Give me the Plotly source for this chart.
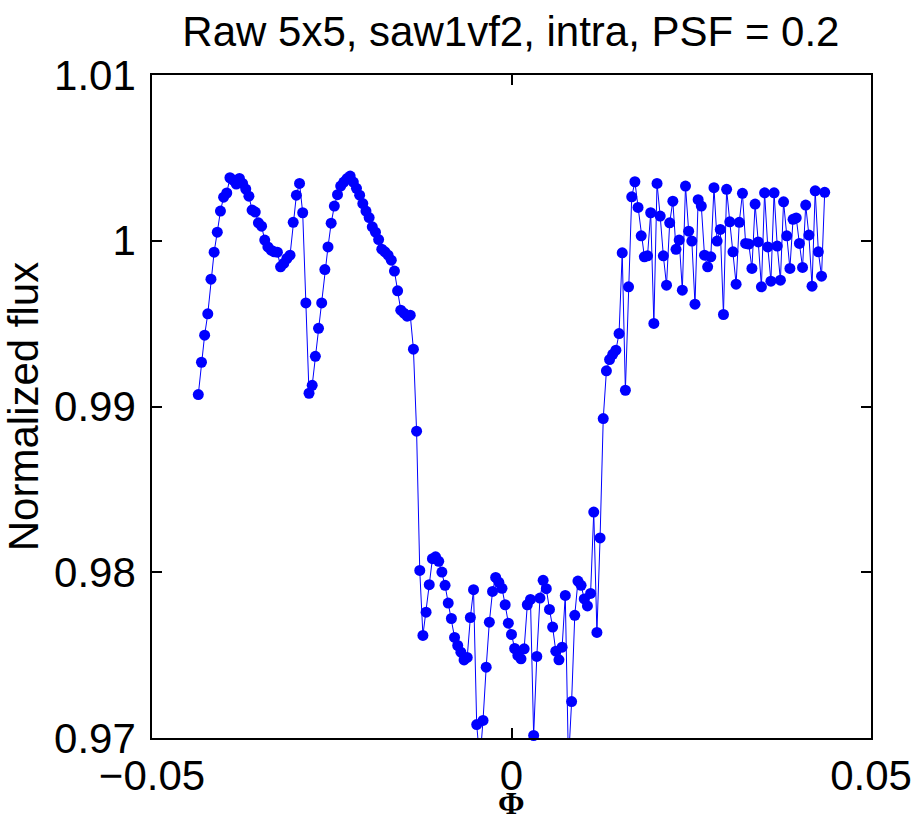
import plotly.graph_objects as go

phase = [
    -0.04356, -0.04312, -0.04268, -0.04224, -0.04180, -0.04136, -0.04092, -0.04048, -0.04004, -0.03960,
    -0.03916, -0.03872, -0.03828, -0.03784, -0.03740, -0.03696, -0.03652, -0.03608, -0.03564, -0.03520,
    -0.03476, -0.03432, -0.03388, -0.03344, -0.03300, -0.03256, -0.03212, -0.03168, -0.03124, -0.03080,
    -0.03036, -0.02992, -0.02948, -0.02904, -0.02860, -0.02816, -0.02772, -0.02728, -0.02684, -0.02640,
    -0.02596, -0.02552, -0.02508, -0.02464, -0.02420, -0.02376, -0.02332, -0.02288, -0.02244, -0.02200,
    -0.02156, -0.02112, -0.02068, -0.02024, -0.01980, -0.01936, -0.01892, -0.01848, -0.01804, -0.01760,
    -0.01716, -0.01672, -0.01628, -0.01584, -0.01540, -0.01496, -0.01452, -0.01408, -0.01364, -0.01320,
    -0.01276, -0.01232, -0.01188, -0.01144, -0.01100, -0.01056, -0.01012, -0.00968, -0.00924, -0.00880,
    -0.00836, -0.00792, -0.00748, -0.00704, -0.00660, -0.00616, -0.00572, -0.00528, -0.00484, -0.00440,
    -0.00396, -0.00352, -0.00308, -0.00264, -0.00220, -0.00176, -0.00132, -0.00088, -0.00044, 0.00000,
    0.00044, 0.00088, 0.00132, 0.00176, 0.00220, 0.00264, 0.00308, 0.00352, 0.00396, 0.00440,
    0.00484, 0.00528, 0.00572, 0.00616, 0.00660, 0.00704, 0.00748, 0.00792, 0.00836, 0.00880,
    0.00924, 0.00968, 0.01012, 0.01056, 0.01100, 0.01144, 0.01188, 0.01232, 0.01276, 0.01320,
    0.01364, 0.01408, 0.01452, 0.01496, 0.01540, 0.01584, 0.01628, 0.01672, 0.01716, 0.01760,
    0.01804, 0.01848, 0.01892, 0.01936, 0.01980, 0.02024, 0.02068, 0.02112, 0.02156, 0.02200,
    0.02244, 0.02288, 0.02332, 0.02376, 0.02420, 0.02464, 0.02508, 0.02552, 0.02596, 0.02640,
    0.02684, 0.02728, 0.02772, 0.02816, 0.02860, 0.02904, 0.02948, 0.02992, 0.03036, 0.03080,
    0.03124, 0.03168, 0.03212, 0.03256, 0.03300, 0.03344, 0.03388, 0.03432, 0.03476, 0.03520,
    0.03564, 0.03608, 0.03652, 0.03696, 0.03740, 0.03784, 0.03828, 0.03872, 0.03916, 0.03960,
    0.04004, 0.04048, 0.04092, 0.04136, 0.04180, 0.04224, 0.04268, 0.04312, 0.04356,
]

flux = [
    0.99072, 0.99267, 0.99430, 0.99559, 0.99768, 0.99931, 1.00052, 1.00179, 1.00263, 1.00288,
    1.00380, 1.00366, 1.00342, 1.00376, 1.00346, 1.00312, 1.00269, 1.00185, 1.00173, 1.00108,
    1.00088, 1.00004, 0.99963, 0.99943, 0.99933, 0.99931, 0.99843, 0.99863, 0.99893, 0.99913,
    1.00111, 1.00275, 1.00346, 1.00169, 0.99625, 0.99080, 0.99128, 0.99303, 0.99472, 0.99625,
    0.99826, 0.99963, 1.00106, 1.00209, 1.00278, 1.00330, 1.00354, 1.00375, 1.00390, 1.00354,
    1.00316, 1.00275, 1.00224, 1.00179, 1.00140, 1.00084, 1.00052, 1.00007, 0.99949, 0.99933,
    0.99913, 0.99883, 0.99817, 0.99698, 0.99581, 0.99563, 0.99545, 0.99551, 0.99346, 0.98851,
    0.98011, 0.97619, 0.97759, 0.97925, 0.98082, 0.98093, 0.98066, 0.98001, 0.97921, 0.97814,
    0.97721, 0.97607, 0.97558, 0.97518, 0.97471, 0.97486, 0.97727, 0.97895, 0.97081, 0.96860,
    0.97106, 0.97427, 0.97699, 0.97884, 0.97969, 0.97939, 0.97903, 0.97804, 0.97693, 0.97625,
    0.97540, 0.97498, 0.97478, 0.97538, 0.97804, 0.97836, 0.97015, 0.97492, 0.97844, 0.97951,
    0.97901, 0.97776, 0.97669, 0.97524, 0.97472, 0.97548, 0.97860, 0.96850, 0.97220, 0.97740,
    0.97947, 0.97921, 0.97839, 0.97797, 0.97872, 0.98363, 0.97637, 0.98207, 0.98927, 0.99215,
    0.99283, 0.99315, 0.99340, 0.99440, 0.99927, 0.99098, 0.99722, 1.00265, 1.00356, 1.00201,
    1.00030, 0.99903, 0.99909, 1.00169, 0.99501, 1.00346, 1.00149, 0.99909, 0.99732, 1.00108,
    1.00239, 0.99948, 1.00004, 0.99702, 1.00330, 1.00058, 0.99998, 0.99617, 1.00248, 1.00209,
    0.99913, 0.99843, 0.99903, 1.00320, 0.99998, 1.00068, 0.99555, 1.00310, 1.00114, 0.99933,
    0.99738, 1.00111, 1.00286, 0.99984, 0.99980, 0.99833, 1.00221, 0.99993, 0.99722, 1.00289,
    0.99963, 0.99756, 1.00289, 0.99968, 0.99762, 1.00235, 1.00030, 0.99833, 1.00129, 1.00138,
    0.99984, 0.99839, 1.00215, 1.00034, 0.99726, 1.00301, 0.99933, 0.99786, 1.00292,
]

x_ticks = [-0.05, 0, 0.05]
x_tick_text = ["\u22120.05", "0", "0.05"]
y_ticks = [0.97, 0.98, 0.99, 1.00, 1.01]
y_tick_text = ["0.97", "0.98", "0.99", "1", "1.01"]

y_min, y_max = 0.97, 1.01
x_min, x_max = -0.05, 0.05

# markers only where the point lies inside the visible range (MATLAB-style clipping)
mx = [p for p, f in zip(phase, flux) if f >= y_min]
my = [f for f in flux if f >= y_min]

BLUE = "rgb(0,0,255)"
FONT = "Liberation Sans, Arial, Helvetica, sans-serif"

fig = go.Figure()
fig.add_trace(go.Scatter(
    x=phase, y=flux, mode="lines",
    line=dict(color=BLUE, width=1),
    hoverinfo="skip", showlegend=False,
))
fig.add_trace(go.Scatter(
    x=mx, y=my, mode="markers",
    marker=dict(color=BLUE, size=11, line=dict(width=0)),
    cliponaxis=False, showlegend=False,
))

axis_common = dict(
    showgrid=False, zeroline=False, automargin=False,
    showline=True, linecolor="black", linewidth=1.5,
    mirror="ticks", ticks="inside", ticklen=10, tickwidth=1.5, tickcolor="black",
    tickfont=dict(family=FONT, size=42, color="black"),
)

fig.update_layout(
    width=914, height=821,
    margin=dict(l=152, r=43, t=75, b=83),
    paper_bgcolor="white", plot_bgcolor="white",
    title=dict(
        text="Raw 5x5, saw1vf2, intra, PSF = 0.2",
        x=0.559, xanchor="center", y=0.962, yanchor="middle",
        font=dict(family=FONT, size=42, color="black"),
    ),
    xaxis=dict(
        range=[x_min, x_max], tickvals=x_ticks, ticktext=x_tick_text,
        ticklabelstandoff=0,
        **axis_common,
    ),
    yaxis=dict(
        range=[y_min, y_max], tickvals=y_ticks, ticktext=y_tick_text,
        title=dict(text="Normalized flux", font=dict(family=FONT, size=42, color="black"), standoff=6),
        ticklabelstandoff=6,
        **axis_common,
    ),
    annotations=[dict(
        text="<b>\u03a6</b>", xref="paper", yref="paper", x=0.5, y=-0.098,
        xanchor="center", yanchor="middle", showarrow=False,
        font=dict(family="Liberation Serif, Times New Roman, serif", size=32, color="black"),
    )],
)

fig.write_html("out.html")
